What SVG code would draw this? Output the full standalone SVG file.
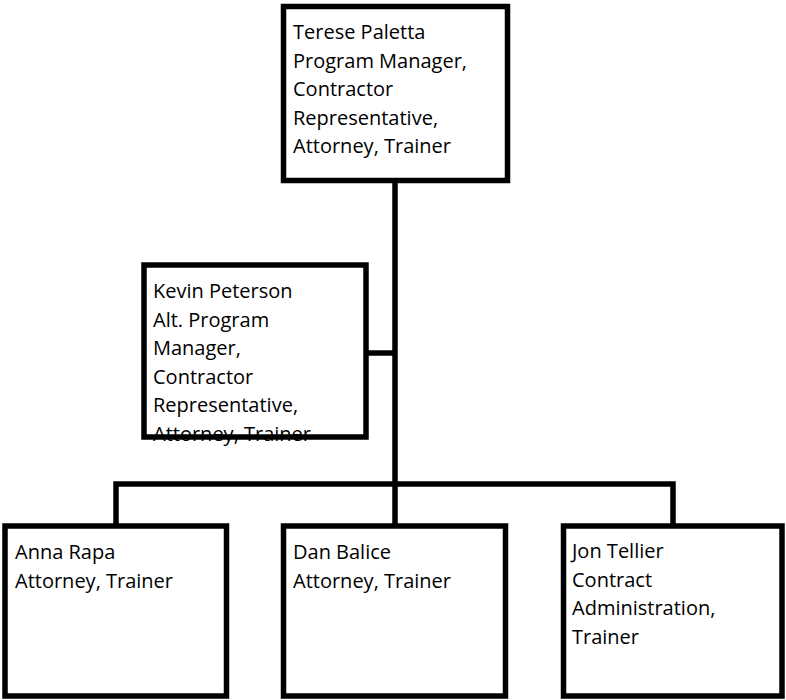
<svg xmlns="http://www.w3.org/2000/svg" width="786" height="700" viewBox="0 0 786 700">
<style>
.box{fill:#fff;stroke:#000;stroke-width:5.5}
.con{fill:none;stroke:#000;stroke-width:5.5;stroke-linejoin:miter}
text{font-family:"Open Sans","Liberation Sans",sans-serif;font-size:20px;fill:#000}
</style>
<rect width="786" height="700" fill="#fff"/>
<g id="connectors">
<path class="con" d="M395,180 V526"/>
<path class="con" d="M366,353 H395"/>
<path class="con" d="M116,526 V484 H673 V526"/>
</g>
<g id="terese">
<rect class="box" x="283.5" y="6.5" width="224" height="174"/>
<text x="293" y="39">Terese Paletta</text>
<text x="293" y="67.5">Program Manager,</text>
<text x="293" y="96">Contractor</text>
<text x="293" y="124.5">Representative,</text>
<text x="293" y="153">Attorney, Trainer</text>
</g>
<g id="kevin">
<rect class="box" x="144" y="265" width="222" height="172"/>
<text x="153" y="298">Kevin Peterson</text>
<text x="153" y="326.5">Alt. Program</text>
<text x="153" y="355">Manager,</text>
<text x="153" y="383.5">Contractor</text>
<text x="153" y="412">Representative,</text>
<text x="153" y="440.5">Attorney, Trainer</text>
</g>
<g id="anna">
<rect class="box" x="5" y="526" width="221.5" height="170"/>
<text x="15" y="559">Anna Rapa</text>
<text x="15" y="588">Attorney, Trainer</text>
</g>
<g id="dan">
<rect class="box" x="283.5" y="526" width="222" height="170"/>
<text x="293" y="559">Dan Balice</text>
<text x="293" y="588">Attorney, Trainer</text>
</g>
<g id="jon">
<rect class="box" x="563.5" y="526" width="218.5" height="170"/>
<text x="572" y="558">Jon Tellier</text>
<text x="572" y="586.5">Contract</text>
<text x="572" y="615">Administration,</text>
<text x="572" y="643.5">Trainer</text>
</g>
</svg>
